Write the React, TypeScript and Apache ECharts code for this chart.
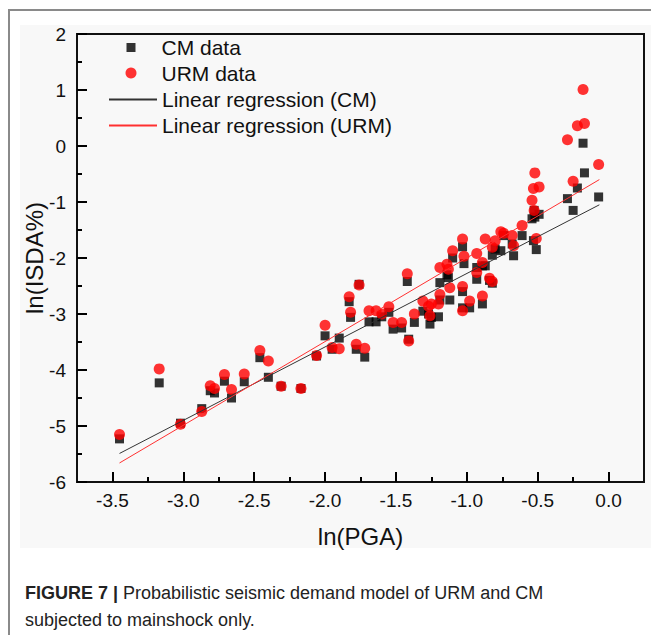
import React, { useEffect, useRef } from "react";
import * as echarts from "echarts";

// ln(PGA) of each record (shared by CM and URM)
const pgaX = [
  -3.45, -3.17, -3.02, -2.87, -2.81, -2.78, -2.71, -2.66, -2.57, -2.46, -2.40, -2.31, -2.17, -2.06,
  -2.00, -1.95, -1.90, -1.83, -1.82, -1.78, -1.76, -1.72, -1.69, -1.64, -1.60, -1.55, -1.52, -1.46,
  -1.42, -1.41, -1.37, -1.31, -1.27, -1.26, -1.25, -1.20, -1.19, -1.19, -1.14, -1.13, -1.12, -1.10,
  -1.03, -1.03, -1.03, -1.02, -0.98, -0.93, -0.93, -0.89, -0.89, -0.87, -0.84, -0.82, -0.82, -0.80,
  -0.76, -0.74, -0.68, -0.67, -0.61, -0.54, -0.53, -0.52, -0.525, -0.51, -0.49, -0.29, -0.25, -0.22,
  -0.18, -0.17, -0.07,
];
// ln(ISDA%) for CM
const cmY = [
  -5.23, -4.23, -4.95, -4.69, -4.37, -4.41, -4.2, -4.5, -4.21, -3.78, -4.13, -4.29, -4.33, -3.75,
  -3.39, -3.63, -3.43, -2.78, -3.06, -3.63, -2.47, -3.77, -3.14, -3.14, -3.05, -2.97, -3.27, -3.25,
  -2.42, -3.45, -3.15, -2.95, -3.0, -3.18, -3.06, -3.05, -2.44, -2.75, -2.3, -2.35, -2.75, -2.0,
  -1.8, -2.6, -2.89, -2.1, -2.89, -2.38, -2.17, -2.14, -2.82, -2.14, -2.4, -2.45, -1.95, -1.84,
  -1.87, -1.6, -1.75, -1.96, -1.6, -1.3, -1.69, -1.27, -1.15, -1.85, -1.22, -0.94, -1.15, -0.75,
  0.05, -0.48, -0.91,
];
// ln(ISDA%) for URM
const urmY = [
  -5.15, -3.98, -4.97, -4.74, -4.28, -4.33, -4.08, -4.35, -4.07, -3.65, -3.84, -4.29, -4.33, -3.74,
  -3.2, -3.6, -3.62, -2.69, -2.97, -3.54, -2.48, -3.61, -2.94, -2.94, -3.0, -2.87, -3.15, -3.15,
  -2.28, -3.48, -3.0, -2.77, -2.86, -3.03, -2.82, -2.82, -2.17, -2.65, -2.11, -2.2, -2.53, -1.87,
  -1.66, -2.51, -2.94, -1.97, -2.77, -2.26, -1.92, -2.08, -2.68, -1.66, -2.36, -2.42, -1.81, -1.69,
  -1.53, -1.56, -1.6, -1.78, -1.42, -0.97, -0.76, -0.48, -1.15, -1.65, -0.73, 0.11, -0.63, 0.36,
  1.01, 0.4, -0.33,
];
// regression line end points
const fitX = [-3.45, -0.065];
const cmFit = [-5.49, -1.05];
const urmFit = [-5.66, -0.6];

const xMajorTicks = [-3.5, -3.0, -2.5, -2.0, -1.5, -1.0, -0.5, 0.0];
const xMinorTicks = [-3.25, -2.75, -2.25, -1.75, -1.25, -0.75, -0.25];
const yMinorTicks = [-5.5, -4.5, -3.5, -2.5, -1.5, -0.5, 0.5, 1.5];

const seriesNames = ["CM data", "URM data", "Linear regression (CM)", "Linear regression (URM)"];

const FONT = "'Liberation Sans', Arial, sans-serif";

export default function App() {
  const ref = useRef<HTMLDivElement>(null);
  useEffect(() => {
    document.body.style.margin = "0";
    const chart = echarts.init(ref.current!, null, { renderer: "svg" });
    const legendText = { fontSize: 21, color: "#111", fontFamily: FONT };
    const option: any = {
      animation: false,
      backgroundColor: "#ffffff",
      textStyle: { fontFamily: FONT },
      graphic: [
        { type: "rect", z: -100, silent: true, shape: { x: 20, y: 25, width: 631, height: 523 }, style: { fill: "#f8f8f8" } },
        { type: "line", silent: true, shape: { x1: 8, y1: 10, x2: 651, y2: 10 }, style: { stroke: "#8a8a8a", lineWidth: 2 } },
        { type: "line", silent: true, shape: { x1: 9, y1: 9, x2: 9, y2: 635 }, style: { stroke: "#8a8a8a", lineWidth: 2 } },
        {
          type: "text",
          silent: true,
          x: 25,
          y: 584,
          style: {
            text: "{b|FIGURE 7 |} Probabilistic seismic demand model of URM and CM",
            fontFamily: FONT,
            fontSize: 18,
            fill: "#222",
            rich: { b: { fontWeight: "bold", fontSize: 18, fontFamily: FONT, fill: "#222" } },
          },
        },
        {
          type: "text",
          silent: true,
          x: 25,
          y: 611,
          style: { text: "subjected to mainshock only.", fontFamily: FONT, fontSize: 18, fill: "#222" },
        },
      ],
      legend: [
        {
          padding: 0,
          left: 126.5,
          top: 37,
          itemWidth: 9,
          itemHeight: 9,
          textStyle: { ...legendText, padding: [0, 0, 0, 21] },
          data: [{ name: seriesNames[0], icon: "rect" }],
        },
        {
          padding: 0,
          left: 125.5,
          top: 62.5,
          itemWidth: 11,
          itemHeight: 11,
          textStyle: { ...legendText, padding: [0, 0, 0, 20] },
          data: [{ name: seriesNames[1], icon: "circle" }],
        },
        {
          padding: 0,
          left: 108,
          top: 89,
          itemWidth: 48,
          itemHeight: 10,
          textStyle: legendText,
          data: [{ name: seriesNames[2], itemStyle: { opacity: 0 } }],
        },
        {
          padding: 0,
          left: 108,
          top: 115,
          itemWidth: 48,
          itemHeight: 10,
          textStyle: legendText,
          data: [{ name: seriesNames[3], itemStyle: { opacity: 0 } }],
        },
      ],
      grid: {
        left: 77,
        top: 34,
        right: 7,
        bottom: 153,
        show: true,
        borderColor: "#111",
        borderWidth: 2,
        backgroundColor: "transparent",
      },
      xAxis: [
        {
          type: "value",
          min: -3.75,
          max: 0.25,
          name: "ln(PGA)",
          nameLocation: "middle",
          nameGap: 42,
          nameMoveOverlap: false,
          nameTextStyle: { fontSize: 24, color: "#111", fontFamily: FONT },
          axisLine: { show: true, onZero: false, lineStyle: { color: "#111", width: 2 } },
          axisTick: { show: true, inside: true, length: 10, customValues: xMajorTicks, lineStyle: { color: "#000000", width: 2 } },
          axisLabel: {
            customValues: xMajorTicks,
            fontSize: 19,
            color: "#111",
            margin: 9,
            fontFamily: FONT,
            formatter: (v: number) => v.toFixed(1),
          },
          splitLine: { show: false },
        },
        {
          type: "value",
          min: -3.75,
          max: 0.25,
          position: "bottom",
          gridIndex: 0,
          axisLine: { show: false, onZero: false },
          axisTick: { show: true, inside: true, length: 5, customValues: xMinorTicks, lineStyle: { color: "#000000", width: 2 } },
          axisLabel: { show: false },
          splitLine: { show: false },
        },
      ],
      yAxis: [
        {
          type: "value",
          min: -6,
          max: 2,
          interval: 1,
          name: "ln(ISDA%)",
          nameLocation: "middle",
          nameGap: 31,
          nameMoveOverlap: false,
          nameRotate: 90,
          nameTextStyle: { fontSize: 24, color: "#111", fontFamily: FONT },
          axisLine: { show: true, onZero: false, lineStyle: { color: "#111", width: 2 } },
          axisTick: { show: true, inside: true, length: 10, lineStyle: { color: "#000000", width: 2 } },
          axisLabel: { fontSize: 19, color: "#111", margin: 11, fontFamily: FONT },
          splitLine: { show: false },
        },
        {
          type: "value",
          min: -6,
          max: 2,
          position: "left",
          gridIndex: 0,
          axisLine: { show: false, onZero: false },
          axisTick: { show: true, inside: true, length: 5, customValues: yMinorTicks, lineStyle: { color: "#000000", width: 2 } },
          axisLabel: { show: false },
          splitLine: { show: false },
        },
      ],
      series: [
        {
          name: seriesNames[0],
          type: "scatter",
          symbol: "rect",
          symbolSize: 9,
          itemStyle: { color: "#000000" },
          data: pgaX.map((x, i) => [x, cmY[i]]),
          z: 2,
        },
        {
          name: seriesNames[1],
          type: "scatter",
          symbol: "circle",
          symbolSize: 11,
          itemStyle: { color: "#ff0000" },
          data: pgaX.map((x, i) => [x, urmY[i]]),
          z: 3,
        },
        {
          name: seriesNames[2],
          type: "line",
          symbol: "none",
          lineStyle: { color: "#333333", width: 1 },
          itemStyle: { color: "#333333" },
          data: fitX.map((x, i) => [x, cmFit[i]]),
          z: 4,
        },
        {
          name: seriesNames[3],
          type: "line",
          symbol: "none",
          lineStyle: { color: "#ff3030", width: 1 },
          itemStyle: { color: "#ff3030" },
          data: fitX.map((x, i) => [x, urmFit[i]]),
          z: 5,
        },
      ],
    };
    chart.setOption(option);
    return () => chart.dispose();
  }, []);
  return (
    <div
      ref={ref}
      style={{ position: "absolute", left: 0, top: 0, width: 651, height: 635 }}
    />
  );
}
